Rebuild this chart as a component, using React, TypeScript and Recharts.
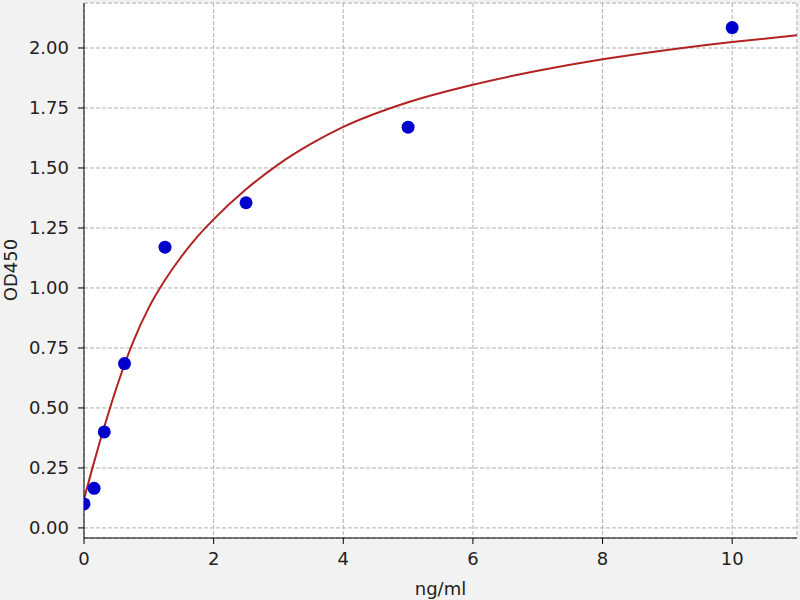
import React from "react";
import {
  CartesianGrid,
  ComposedChart,
  Line,
  Scatter,
  XAxis,
  YAxis,
} from "recharts";

// standards measured (ng/ml vs OD450)
const concentrations = [0, 0.156, 0.3125, 0.625, 1.25, 2.5, 5, 10];
const odValues = [0.1, 0.165, 0.4, 0.685, 1.17, 1.355, 1.67, 2.085];

// fitted curve
const curveX = [0, 0.125, 0.25, 0.375, 0.5, 0.625, 0.75, 1, 1.25, 1.5, 1.75, 2, 2.5, 3, 3.5, 4, 5, 6, 7, 8, 9, 10, 11];
const curveY = [0.12, 0.245, 0.364, 0.477, 0.583, 0.681, 0.77, 0.918, 1.033, 1.13, 1.214, 1.286, 1.411, 1.515, 1.6, 1.671, 1.774, 1.847, 1.905, 1.953, 1.992, 2.025, 2.053];

const xTicks = [0, 2, 4, 6, 8, 10];
const yTicks = [0, 0.25, 0.5, 0.75, 1, 1.25, 1.5, 1.75, 2];

const points = concentrations.map((x, i) => ({ x, y: odValues[i] }));
const curve = curveX.map((x, i) => ({ x, y: curveY[i] }));

const font = { fontFamily: "DejaVu Sans", fontSize: 18, fill: "#222" };

const Dot = (props: any) => (
  <circle cx={props.cx} cy={props.cy} r={6.5} fill="#0000cd" />
);

const YLabel = () => (
  <text
    x={10}
    y={270}
    transform="rotate(-90 10 270)"
    textAnchor="middle"
    dominantBaseline="central"
    {...font}
  >
    OD450
  </text>
);

export default function App() {
  return (
    <div
      style={{
        position: "fixed",
        left: 0,
        top: 0,
        width: 800,
        height: 600,
        background: "#f2f2f2",
      }}
    >
      <ComposedChart
        width={800}
        height={600}
        margin={{ top: 3, right: 3, bottom: 0, left: 0 }}
      >
        <CartesianGrid stroke="#b0b0b0" strokeDasharray="4 2" fill="#ffffff" />
        <XAxis
          type="number"
          dataKey="x"
          domain={[0, 11]}
          ticks={xTicks}
          allowDataOverflow
          height={62}
          stroke="#000"
          tickSize={6}
          tickMargin={8}
          tick={font}
          label={{
            value: "ng/ml",
            position: "insideBottom",
            offset: 5,
            style: { ...font, textAnchor: "middle" },
          }}
        />
        <YAxis
          type="number"
          dataKey="y"
          domain={[-0.042, 2.1875]}
          ticks={yTicks}
          allowDataOverflow
          width={84}
          stroke="#000"
          tickSize={6}
          tickMargin={9}
          tick={font}
          tickFormatter={(v: number) => v.toFixed(2)}
          label={{ content: YLabel }}
        />
        <XAxis
          xAxisId="top"
          orientation="top"
          type="number"
          domain={[0, 11]}
          height={0}
          tick={false}
          tickLine={false}
          stroke="#000"
        />
        <YAxis
          yAxisId="right"
          orientation="right"
          type="number"
          domain={[-0.042, 2.1875]}
          width={0}
          tick={false}
          tickLine={false}
          stroke="#000"
        />
        <Scatter
          data={points}
          dataKey="y"
          shape={Dot}
          isAnimationActive={false}
        />
        <Line
          data={curve}
          dataKey="y"
          type="monotone"
          stroke="#b22222"
          strokeWidth={2}
          dot={false}
          activeDot={false}
          isAnimationActive={false}
        />
      </ComposedChart>
    </div>
  );
}
